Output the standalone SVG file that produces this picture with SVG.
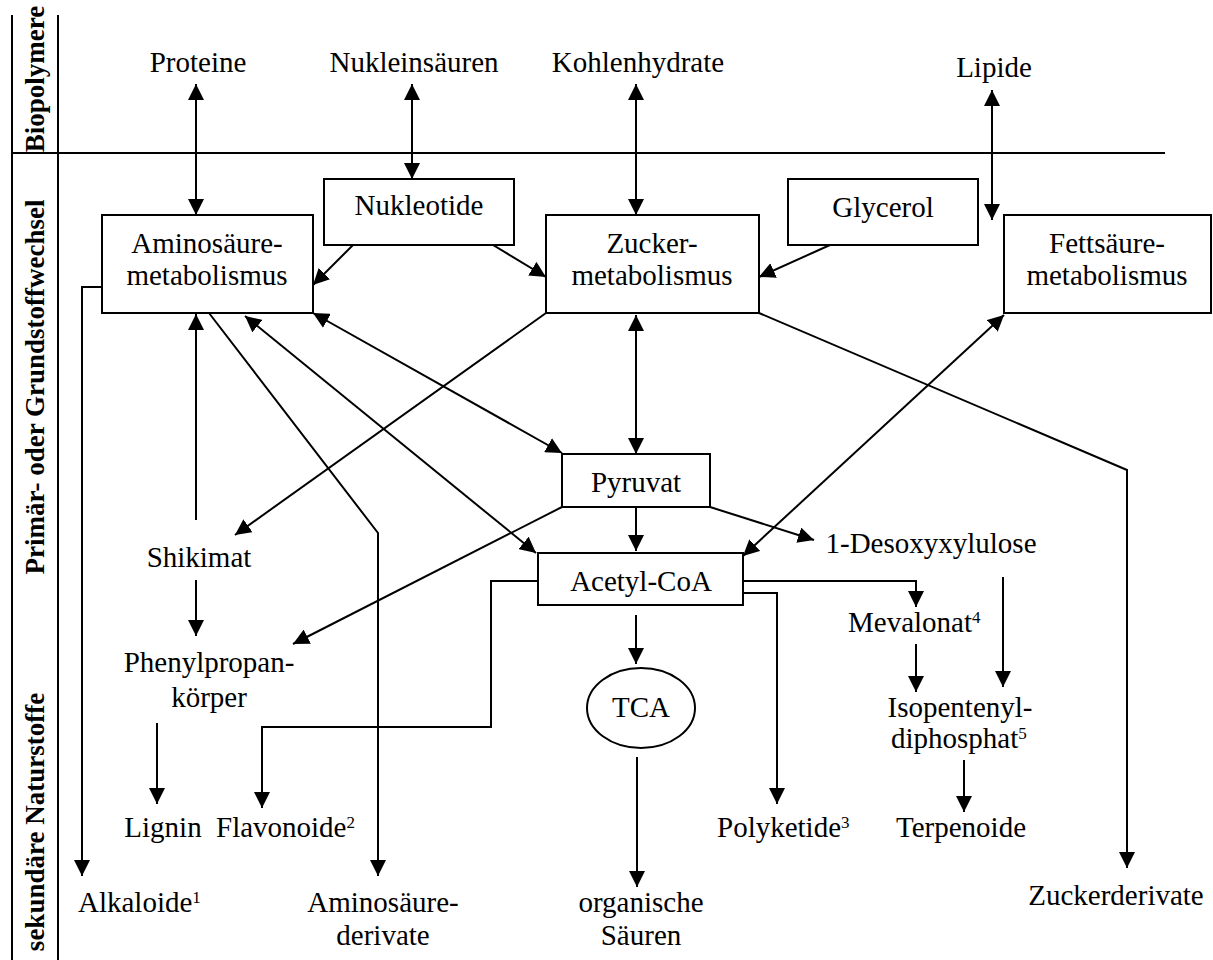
<svg xmlns="http://www.w3.org/2000/svg" width="1213" height="960" viewBox="0 0 1213 960" font-family="'Liberation Serif', 'DejaVu Serif', serif">
<style>
text{font-family:'Liberation Serif','DejaVu Serif',serif;font-size:29px;fill:#000;text-anchor:middle}
.side{font-weight:bold;font-size:27px}
.sup{font-size:17px}
.box{fill:#fff;stroke:#000;stroke-width:2}
.c{fill:none;stroke:#000;stroke-width:2}
.rule{stroke:#000;stroke-width:2}
</style>
<defs>
<marker id="ah" viewBox="0 0 16 16" refX="16" refY="8" markerWidth="16" markerHeight="16" markerUnits="userSpaceOnUse" orient="auto-start-reverse">
<path d="M0,0 L16,8 L0,16 z" fill="#000"/>
</marker>
</defs>
<rect width="1213" height="960" fill="#fff"/>
<g id="frame">
<line class="rule" x1="12" y1="15" x2="12" y2="960"/>
<line class="rule" x1="58" y1="15" x2="58" y2="960"/>
<line class="rule" x1="12" y1="153" x2="1165" y2="153"/>
<text class="side" transform="translate(44,79) rotate(-90)">Biopolymere</text>
<text class="side" transform="translate(44,387) rotate(-90)">Primär- oder Grundstoffwechsel</text>
<text class="side" transform="translate(44,822) rotate(-90)">sekundäre Naturstoffe</text>
</g>
<g id="connectors">
<path class="c" d="M196,84 L196,215" marker-start="url(#ah)" marker-end="url(#ah)"/>
<path class="c" d="M412,84 L412,179" marker-start="url(#ah)" marker-end="url(#ah)"/>
<path class="c" d="M636,84 L636,215" marker-start="url(#ah)" marker-end="url(#ah)"/>
<path class="c" d="M992,90 L992,220" marker-start="url(#ah)" marker-end="url(#ah)"/>
<path class="c" d="M353,245 L313,285" marker-end="url(#ah)"/>
<path class="c" d="M493,245 L546,277" marker-end="url(#ah)"/>
<path class="c" d="M830,245 L759,277" marker-end="url(#ah)"/>
<path class="c" d="M102,287 L82,287 L82,876" marker-end="url(#ah)"/>
<path class="c" d="M196,520 L196,314" marker-end="url(#ah)"/>
<path class="c" d="M196,580 L196,636" marker-end="url(#ah)"/>
<path class="c" d="M209,313 L378,533 L378,876" marker-end="url(#ah)"/>
<path class="c" d="M245,316 L536,553" marker-start="url(#ah)" marker-end="url(#ah)"/>
<path class="c" d="M313,313 L562,453" marker-start="url(#ah)" marker-end="url(#ah)"/>
<path class="c" d="M546,313 L235,535" marker-end="url(#ah)"/>
<path class="c" d="M636,315 L636,454" marker-start="url(#ah)" marker-end="url(#ah)"/>
<path class="c" d="M759,313 L1127,470 L1127,868" marker-end="url(#ah)"/>
<path class="c" d="M1004,315 L743,556" marker-start="url(#ah)" marker-end="url(#ah)"/>
<path class="c" d="M636,507 L636,551" marker-end="url(#ah)"/>
<path class="c" d="M710,507 L814,540" marker-end="url(#ah)"/>
<path class="c" d="M562,507 L293,644" marker-end="url(#ah)"/>
<path class="c" d="M538,581 L491,581 L491,727 L262,727 L262,808" marker-end="url(#ah)"/>
<path class="c" d="M636,615 L636,664" marker-end="url(#ah)"/>
<path class="c" d="M637,757 L637,887" marker-end="url(#ah)"/>
<path class="c" d="M743,581 L916,581 L916,607" marker-end="url(#ah)"/>
<path class="c" d="M743,593 L777,593 L777,804" marker-end="url(#ah)"/>
<path class="c" d="M1003,577 L1003,687" marker-end="url(#ah)"/>
<path class="c" d="M916,644 L916,692" marker-end="url(#ah)"/>
<path class="c" d="M964,760 L964,812" marker-end="url(#ah)"/>
<path class="c" d="M157,723 L157,804" marker-end="url(#ah)"/>
</g>
<g id="proteine"><text x="198" y="72">Proteine</text></g>
<g id="nukleinsaeuren"><text x="414" y="72">Nukleinsäuren</text></g>
<g id="kohlenhydrate"><text x="638" y="72">Kohlenhydrate</text></g>
<g id="lipide"><text x="994" y="77">Lipide</text></g>
<g id="nukleotide"><rect class="box" x="324" y="179" width="190" height="66"/><text x="419" y="215">Nukleotide</text></g>
<g id="glycerol"><rect class="box" x="788" y="179" width="190" height="66"/><text x="883" y="217">Glycerol</text></g>
<g id="aminosaeure"><rect class="box" x="102" y="215" width="211" height="98"/><text x="207" y="253">Aminosäure-</text><text x="207" y="285">metabolismus</text></g>
<g id="zucker"><rect class="box" x="546" y="215" width="213" height="98"/><text x="652" y="253">Zucker-</text><text x="652" y="285">metabolismus</text></g>
<g id="fettsaeure"><rect class="box" x="1004" y="215" width="207" height="98"/><text x="1107" y="253">Fettsäure-</text><text x="1107" y="285">metabolismus</text></g>
<g id="pyruvat"><rect class="box" x="562" y="454" width="148" height="53"/><text x="636" y="492">Pyruvat</text></g>
<g id="acetylcoa"><rect class="box" x="538" y="553" width="205" height="52"/><text x="641" y="591">Acetyl-CoA</text></g>
<g id="tca"><ellipse class="box" cx="641" cy="708" rx="54" ry="40"/><text x="641" y="717">TCA</text></g>
<g id="shikimat"><text x="199" y="567">Shikimat</text></g>
<g id="desoxyxylulose"><text x="931" y="553">1-Desoxyxylulose</text></g>
<g id="mevalonat"><text x="848" y="632" style="text-anchor:start">Mevalonat<tspan class="sup" dy="-9">4</tspan></text></g>
<g id="phenylpropan"><text x="209" y="672">Phenylpropan-</text><text x="209" y="707">körper</text></g>
<g id="isopentenyl"><text x="960" y="717">Isopentenyl-</text><text x="891" y="748" style="text-anchor:start">diphosphat<tspan class="sup" dy="-9">5</tspan></text></g>
<g id="lignin"><text x="163" y="837">Lignin</text></g>
<g id="flavonoide"><text x="216" y="837" style="text-anchor:start">Flavonoide<tspan class="sup" dy="-9">2</tspan></text></g>
<g id="polyketide"><text x="717" y="837" style="text-anchor:start">Polyketide<tspan class="sup" dy="-9">3</tspan></text></g>
<g id="terpenoide"><text x="961" y="837">Terpenoide</text></g>
<g id="alkaloide"><text x="78" y="912" style="text-anchor:start">Alkaloide<tspan class="sup" dy="-9">1</tspan></text></g>
<g id="aminosaeurederivate"><text x="383" y="912">Aminosäure-</text><text x="383" y="945">derivate</text></g>
<g id="organische"><text x="641" y="912">organische</text><text x="641" y="945">Säuren</text></g>
<g id="zuckerderivate"><text x="1116" y="905">Zuckerderivate</text></g>
</svg>
